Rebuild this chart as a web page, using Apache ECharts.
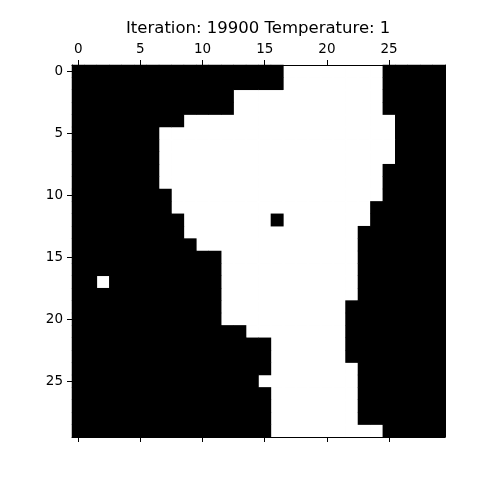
<!DOCTYPE html>
<html>
<head>
<meta charset="utf-8">
<script src="https://cdn.jsdelivr.net/npm/echarts@6/dist/echarts.min.js"></script>
<style>
  html, body { margin: 0; padding: 0; background: #fff; }
  #chart { width: 480px; height: 480px; }
</style>
</head>
<body>
<div id="chart"></div>
<script>
// spin lattice: 1 = white (+1), 0 = black (-1), rows top to bottom
const spinRows = [
  '00000 00000 00000 00111 11111 00000',
  '00000 00000 00000 00111 11111 00000',
  '00000 00000 00011 11111 11111 00000',
  '00000 00000 00011 11111 11111 00000',
  '00000 00001 11111 11111 11111 10000',
  '00000 00111 11111 11111 11111 10000',
  '00000 00111 11111 11111 11111 10000',
  '00000 00111 11111 11111 11111 10000',
  '00000 00111 11111 11111 11111 00000',
  '00000 00111 11111 11111 11111 00000',
  '00000 00011 11111 11111 11111 00000',
  '00000 00011 11111 11111 11110 00000',
  '00000 00001 11111 10111 11110 00000',
  '00000 00001 11111 11111 11100 00000',
  '00000 00000 11111 11111 11100 00000',
  '00000 00000 00111 11111 11100 00000',
  '00000 00000 00111 11111 11100 00000',
  '00100 00000 00111 11111 11100 00000',
  '00000 00000 00111 11111 11100 00000',
  '00000 00000 00111 11111 11000 00000',
  '00000 00000 00111 11111 11000 00000',
  '00000 00000 00001 11111 11000 00000',
  '00000 00000 00000 01111 11000 00000',
  '00000 00000 00000 01111 11000 00000',
  '00000 00000 00000 01111 11100 00000',
  '00000 00000 00000 11111 11100 00000',
  '00000 00000 00000 01111 11100 00000',
  '00000 00000 00000 01111 11100 00000',
  '00000 00000 00000 01111 11100 00000',
  '00000 00000 00000 01111 11111 00000'
];
const iteration = 19900;
const temperature = 1;

const size = spinRows.length;
const indexLabels = Array.from({ length: size }, (_, i) => String(i));

const downCells = [];
const upCells = [];
spinRows.forEach((row, r) => {
  row.replace(/ /g, '').split('').forEach((ch, c) => {
    (ch === '1' ? upCells : downCells).push([c, r, Number(ch)]);
  });
});

const chart = echarts.init(document.getElementById('chart'));

const black = '#000';
const tickStyle = { show: true, alignWithLabel: true, interval: 4, length: 5, lineStyle: { color: black, width: 1 } };
const labelStyle = { interval: 4, color: black, fontSize: 13.5, fontFamily: 'DejaVu Sans' };

chart.setOption({
  animation: false,
  title: {
    text: `Iteration: ${iteration} Temperature: ${temperature}`,
    left: 126,
    top: 20,
    padding: 0,
    textStyle: { fontSize: 16.5, fontWeight: 'normal', color: black, fontFamily: 'DejaVu Sans' }
  },
  grid: { left: 72, top: 65, width: 373, height: 372, show: true, backgroundColor: black, borderWidth: 0 },
  xAxis: [
    {
      type: 'category',
      data: indexLabels,
      position: 'top',
      z: 10,
      axisLine: { show: true, lineStyle: { color: black, width: 1 } },
      axisTick: tickStyle,
      axisLabel: { ...labelStyle, margin: 9 },
      splitLine: { show: false }
    },
    {
      type: 'category',
      data: indexLabels,
      position: 'bottom',
      z: 10,
      axisLine: { show: true, lineStyle: { color: black, width: 1 } },
      axisTick: tickStyle,
      axisLabel: { show: false },
      splitLine: { show: false }
    }
  ],
  yAxis: [
    {
      type: 'category',
      data: indexLabels,
      inverse: true,
      position: 'left',
      z: 10,
      axisLine: { show: true, lineStyle: { color: black, width: 1 } },
      axisTick: tickStyle,
      axisLabel: { ...labelStyle, margin: 9 },
      splitLine: { show: false }
    },
    {
      type: 'category',
      data: indexLabels,
      inverse: true,
      position: 'right',
      z: 10,
      axisLine: { show: true, lineStyle: { color: black, width: 1 } },
      axisTick: { show: false },
      axisLabel: { show: false },
      splitLine: { show: false }
    }
  ],
  series: [
    {
      name: 'spin +1',
      type: 'heatmap',
      xAxisIndex: 0,
      yAxisIndex: 0,
      data: upCells,
      itemStyle: { color: '#ffffff', borderColor: '#ffffff', borderWidth: 1 },
      emphasis: { disabled: true }
    },
    {
      name: 'spin -1',
      type: 'heatmap',
      xAxisIndex: 0,
      yAxisIndex: 0,
      data: downCells,
      itemStyle: { color: '#000000', borderWidth: 0 },
      emphasis: { disabled: true }
    }
  ]
});
</script>
</body>
</html>
